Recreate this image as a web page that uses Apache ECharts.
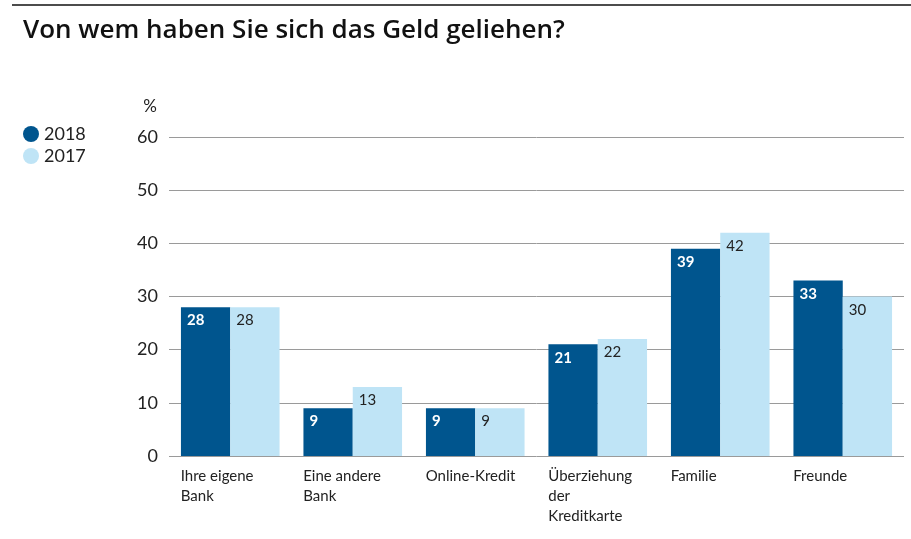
<!DOCTYPE html>
<html>
<head>
<meta charset="utf-8">
<script src="https://cdn.jsdelivr.net/npm/echarts@6/dist/echarts.min.js"></script>
<style>
  html, body { margin: 0; padding: 0; background: #fff; }
  #chart { width: 911px; height: 539px; }
</style>
</head>
<body>
<div id="chart"></div>
<script>
// Daten
let categories = ['Ihre eigene\nBank', 'Eine andere\nBank', 'Online-Kredit', 'Überziehung\nder\nKreditkarte', 'Familie', 'Freunde'];
let values2018 = [28, 9, 9, 21, 39, 33];
let values2017 = [28, 13, 9, 22, 42, 30];
let yTicks = [0, 10, 20, 30, 40, 50, 60];

let dunkel = '#00558e';
let hell = '#bfe4f6';
let schrift = 'Lato, "Open Sans", sans-serif';

let box = document.getElementById('chart');
let myChart = echarts.init(box);

let options = {
    animation: false,
    title: {
        text: 'Von wem haben Sie sich das Geld geliehen?',
        left: 18,
        top: 13,
        textStyle: { fontFamily: '"Open Sans", sans-serif', fontSize: 26, fontWeight: 600, color: '#111' }
    },
    graphic: [
        {
            type: 'line',
            shape: { x1: 12, y1: 5, x2: 911, y2: 5 },
            style: { stroke: '#111', lineWidth: 1.5 }
        }
    ],
    legend: {
        orient: 'vertical',
        left: 18,
        top: 120,
        icon: 'circle',
        itemWidth: 16,
        itemHeight: 16,
        itemGap: 4,
        textStyle: { fontFamily: schrift, fontSize: 18, color: '#222' },
        data: ['2018', '2017']
    },
    grid: {
        left: 169,
        right: 7,
        top: 137,
        bottom: 83
    },
    xAxis: {
        type: 'category',
        data: categories,
        axisLine: { show: false },
        axisTick: { show: false },
        axisLabel: {
            margin: 10,
            formatter: function (v) {
                return v.split('\n').map(function (s) { return '{a|' + s + '}'; }).join('\n');
            },
            rich: {
                a: { width: 99, align: 'left', fontFamily: schrift, fontSize: 15, color: '#222', lineHeight: 20 }
            }
        }
    },
    yAxis: {
        type: 'value',
        min: yTicks[0],
        max: yTicks[yTicks.length - 1],
        interval: 10,
        name: '%',
        nameGap: 22,
        nameTextStyle: { fontFamily: schrift, fontSize: 17, color: '#222', align: 'right', padding: [0, 12, 0, 0] },
        axisLine: { show: false },
        axisTick: { show: false },
        axisLabel: { fontFamily: schrift, fontSize: 18, color: '#222', margin: 11 },
        splitLine: { lineStyle: { color: '#9a9a9a', width: 1 } }
    },
    series: [
        {
            name: '2018',
            type: 'bar',
            data: values2018,
            barGap: '0%',
            barCategoryGap: '19.5%',
            itemStyle: { color: dunkel },
            label: {
                show: true,
                position: 'insideTopLeft',
                distance: 6,
                fontFamily: schrift,
                fontSize: 15,
                fontWeight: 'bold',
                color: '#fff'
            }
        },
        {
            name: '2017',
            type: 'bar',
            data: values2017,
            itemStyle: { color: hell },
            label: {
                show: true,
                position: 'insideTopLeft',
                distance: 6,
                fontFamily: schrift,
                fontSize: 15,
                color: '#222'
            }
        }
    ]
};
myChart.setOption(options);
</script>
</body>
</html>
